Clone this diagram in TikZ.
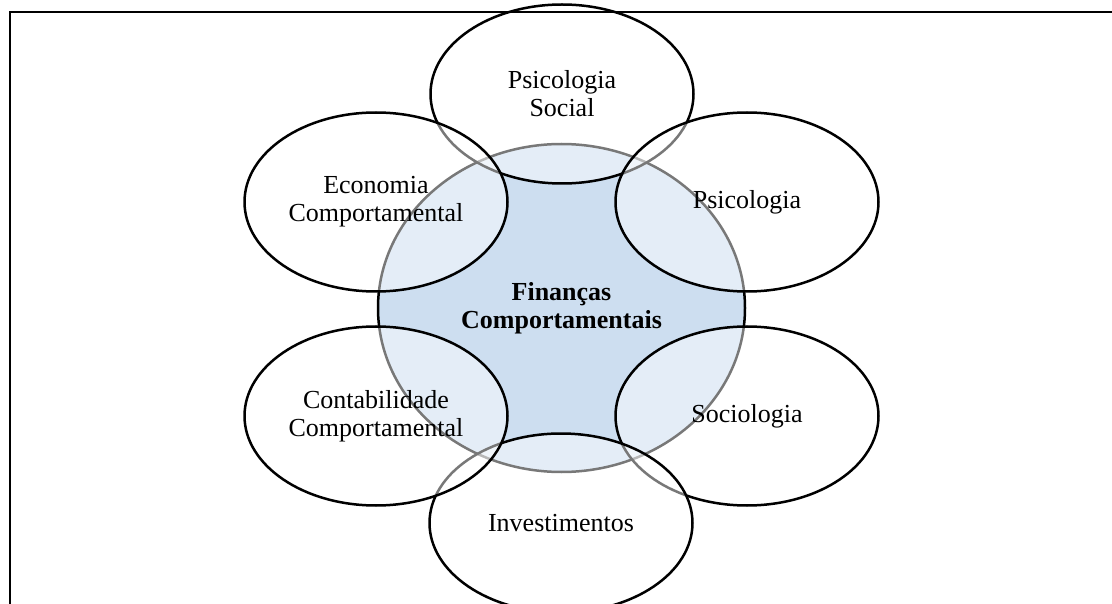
\documentclass[tikz,border=0pt]{standalone}
\usepackage{fontspec}
\setmainfont{Liberation Serif}
\usetikzlibrary{shapes.geometric}
\definecolor{coreblue}{RGB}{205,222,240}
\tikzset{
  field/.style={ellipse, draw=black, line width=2.5pt, fill=white,
    fill opacity=0.47, text opacity=1, minimum width=263pt,
    minimum height=179pt, inner sep=0pt, align=center,
    font=\fontsize{26}{28}\selectfont},
  corefield/.style={ellipse, draw=black, line width=2.5pt, fill=coreblue,
    minimum width=367pt, minimum height=328pt, inner sep=0pt, align=center,
    font=\fontsize{26}{28}\selectfont\bfseries},
  frame/.style={draw=black, line width=2pt}
}
\begin{document}
\begin{tikzpicture}[x=1pt, y=-1pt]
  \useasboundingbox (0,0) rectangle (1112,604);
  \begin{scope}
    \clip (0,0) rectangle (1112,604);
    % central field
    \node[corefield] (core) at (561.5,308) {Finanças\\Comportamentais};
    % surrounding fields, clockwise from the top
    \node[field] (social) at (562,94) {Psicologia\\Social};
    \node[field] (psico) at (747,202) {Psicologia};
    \node[field] (socio) at (747,416) {Sociologia};
    \node[field] (invest) at (561,523) {Investimentos};
    \node[field] (contab) at (376,416) {Contabilidade\\Comportamental};
    \node[field] (econ) at (376,202) {Economia\\Comportamental};
    % outer frame
    \coordinate (frameNW) at (10,12);
    \coordinate (frameSE) at (1125,620);
    \draw[frame] (frameNW) rectangle (frameSE);
  \end{scope}
\end{tikzpicture}
\end{document}
